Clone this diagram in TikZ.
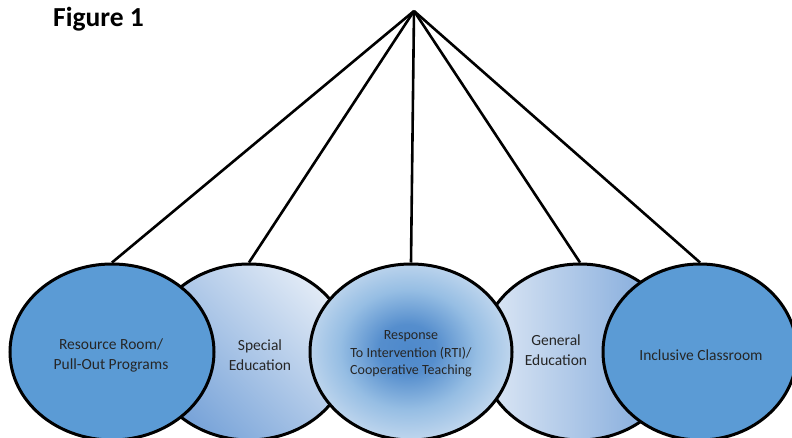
\documentclass[tikz,border=0pt]{standalone}
\usepackage{fontspec}
\setmainfont{Carlito}
\usetikzlibrary{shapes.geometric}
\definecolor{midblue}{HTML}{5B9BD5}
\definecolor{coreblue}{HTML}{4E89CB}
\definecolor{lightblue}{HTML}{DEE8F5}
\definecolor{darkgrad}{HTML}{76A2D8}
\definecolor{txt}{HTML}{262626}
\pgfdeclareradialshading{rtishade}{\pgfpoint{-1bp}{1bp}}{color(0bp)=(coreblue); color(7bp)=(coreblue!95!lightblue); color(17bp)=(midblue!55!lightblue); color(27bp)=(midblue!18!lightblue); color(35bp)=(lightblue); color(50bp)=(lightblue)}
\tikzset{
  oval/.style={ellipse, draw=black, line width=3pt, inner sep=0pt, minimum height=176pt},
  spoke/.style={draw=black, line width=2.6pt},
  lbl/.style={font=\fontsize{15.5}{20}\selectfont, text=txt, align=center, inner sep=0pt},
  lblsmall/.style={font=\fontsize{14}{17.5}\selectfont, text=txt, align=center, inner sep=0pt}
}
\begin{document}
\begin{tikzpicture}[x=1pt,y=1pt]
\useasboundingbox (0,0) rectangle (792,438);
% back ellipses
\node[oval, minimum width=202pt, top color=lightblue!90!white, bottom color=darkgrad, shading angle=-45] (e2) at (249,86) {};
\node[oval, minimum width=198pt, left color=lightblue!95!white, right color=darkgrad] (e4) at (580,86) {};
% front ellipses
\node[oval, minimum width=204pt, fill=midblue] (e1) at (112,86) {};
\node[oval, minimum width=202pt, shading=rtishade] (e3) at (411,86) {};
\node[oval, minimum width=194pt, fill=midblue] (e5) at (700,86) {};
% apex and spokes
\coordinate (apex) at (414,427);
\draw[spoke] (apex) -- (e1.north);
\draw[spoke] (apex) -- (e2.north);
\draw[spoke] (apex) -- (e3.north);
\draw[spoke] (apex) -- (e4.north);
\draw[spoke] (apex) -- (e5.north);
% labels
\node[lbl] (t1) at (111,83) {Resource Room/\\Pull-Out Programs};
\node[lbl] (t2) at (260,83) {Special\\Education};
\node[lblsmall] (t3) at (411,84) {Response\\To Intervention (RTI)/\\Cooperative Teaching};
\node[lbl] (t4) at (556,88) {General\\Education};
\node[lbl] (t5) at (701,83) {Inclusive Classroom};
% title
\node[anchor=base west, inner sep=0pt, font=\bfseries\fontsize{27.5}{32}\selectfont, text=black] (title) at (53,411) {Figure 1};
\end{tikzpicture}
\end{document}
